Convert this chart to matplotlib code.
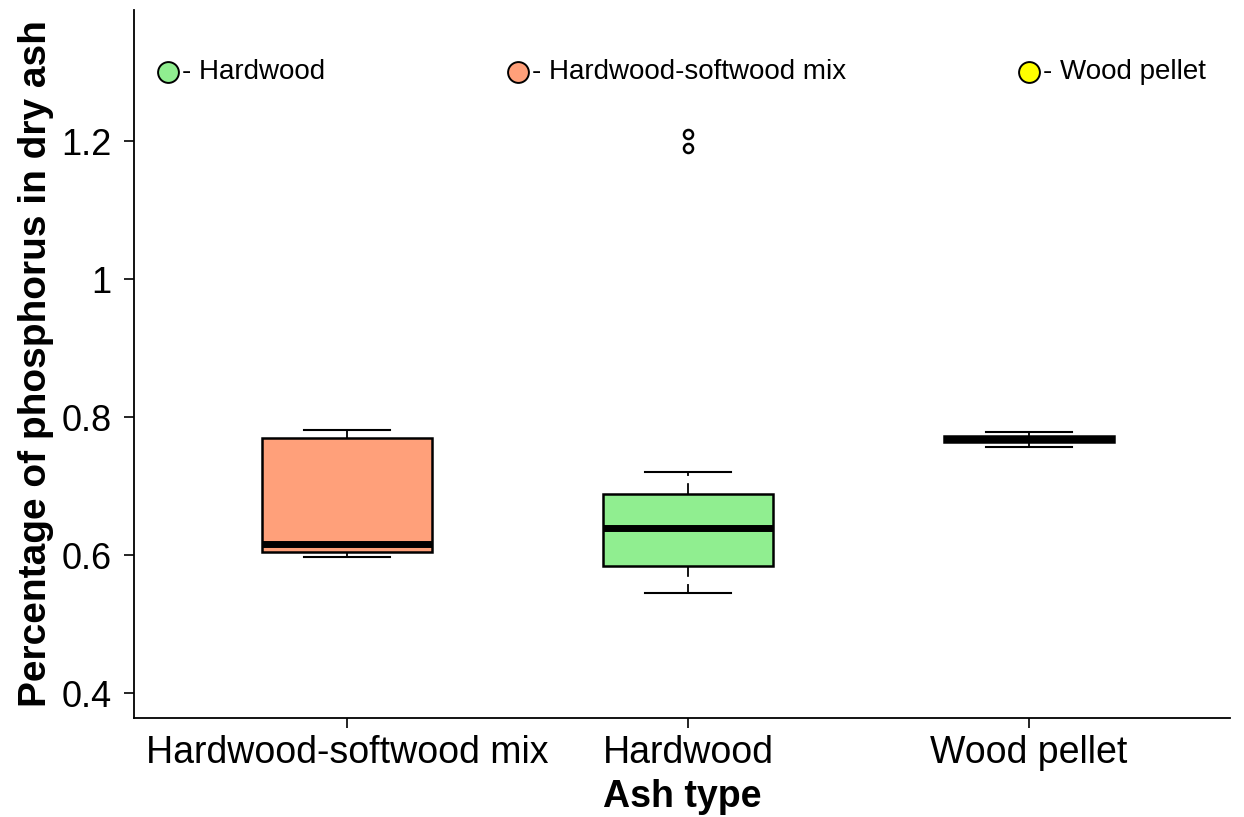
import matplotlib
matplotlib.use("Agg")
import matplotlib.pyplot as plt

plt.rcParams['font.family'] = ['Liberation Sans', 'DejaVu Sans']

# 箱线图统计量
categories = ["Hardwood-softwood mix", "Hardwood", "Wood pellet"]
box_colors = ["#FFA07A", "#90EE90", "#FFFF00"]
q1 = [0.604, 0.584, 0.764]
med = [0.616, 0.639, 0.768]
q3 = [0.770, 0.688, 0.772]
whislo = [0.597, 0.545, 0.757]
whishi = [0.781, 0.720, 0.779]
fliers = [[], [1.19, 1.21], []]

# 图例
legend_names = ["Hardwood", "Hardwood-softwood mix", "Wood pellet"]
legend_colors = ["#90EE90", "#FFA07A", "#FFFF00"]
legend_x = [0.475, 1.50, 3.00]
legend_y = 1.30

stats = []
for i in range(len(categories)):
    stats.append(dict(label=categories[i], q1=q1[i], med=med[i], q3=q3[i],
                      whislo=whislo[i], whishi=whishi[i], fliers=fliers[i]))

fig = plt.figure(figsize=(12.44, 8.17), dpi=100)
ax = fig.add_axes([0.1077, 0.1212, 0.8813, 0.8666])

bp = ax.bxp(stats, positions=[1, 2, 3], widths=0.5, patch_artist=True,
            boxprops=dict(edgecolor="black", linewidth=1.8),
            medianprops=dict(color="black", linewidth=5, solid_capstyle="butt"),
            whiskerprops=dict(color="black", linewidth=1.3, linestyle=(0, (6, 4))),
            capprops=dict(color="black", linewidth=1.5),
            capwidths=0.25,
            flierprops=dict(marker="o", markersize=6.5, markerfacecolor="none",
                            markeredgecolor="black", markeredgewidth=1.8))
for patch, c in zip(bp["boxes"], box_colors):
    patch.set_facecolor(c)

# 顶部图例（圆点 + 文字）
for x, name, c in zip(legend_x, legend_names, legend_colors):
    ax.plot(x, legend_y, marker="o", markersize=15, markerfacecolor=c,
            markeredgecolor="black", markeredgewidth=1.4, linestyle="none", clip_on=False)
    ax.text(x + 0.042, legend_y, "- " + name, fontsize=20, va="center", ha="left")

ax.set_xlim(0.375, 3.59)
ax.set_ylim(0.364, 1.39)
ax.set_yticks([0.4, 0.6, 0.8, 1.0, 1.2])
ax.set_yticklabels(["0.4", "0.6", "0.8", "1", "1.2"])
ax.set_xticks([1, 2, 3])
ax.set_xticklabels(categories)

for s in ["top", "right"]:
    ax.spines[s].set_visible(False)
for s in ["left", "bottom"]:
    ax.spines[s].set_linewidth(1.3)
ax.tick_params(axis="both", direction="out", length=7, width=1.2, labelsize=26)
ax.tick_params(axis="x", labelsize=27, pad=5)
ax.tick_params(axis="y", pad=9)

ax.set_xlabel("Ash type", fontsize=27, fontweight="bold", labelpad=6)
ax.set_ylabel("Percentage of phosphorus in dry ash", fontsize=28, fontweight="bold", labelpad=5)

fig.savefig("out.png", dpi=100)
